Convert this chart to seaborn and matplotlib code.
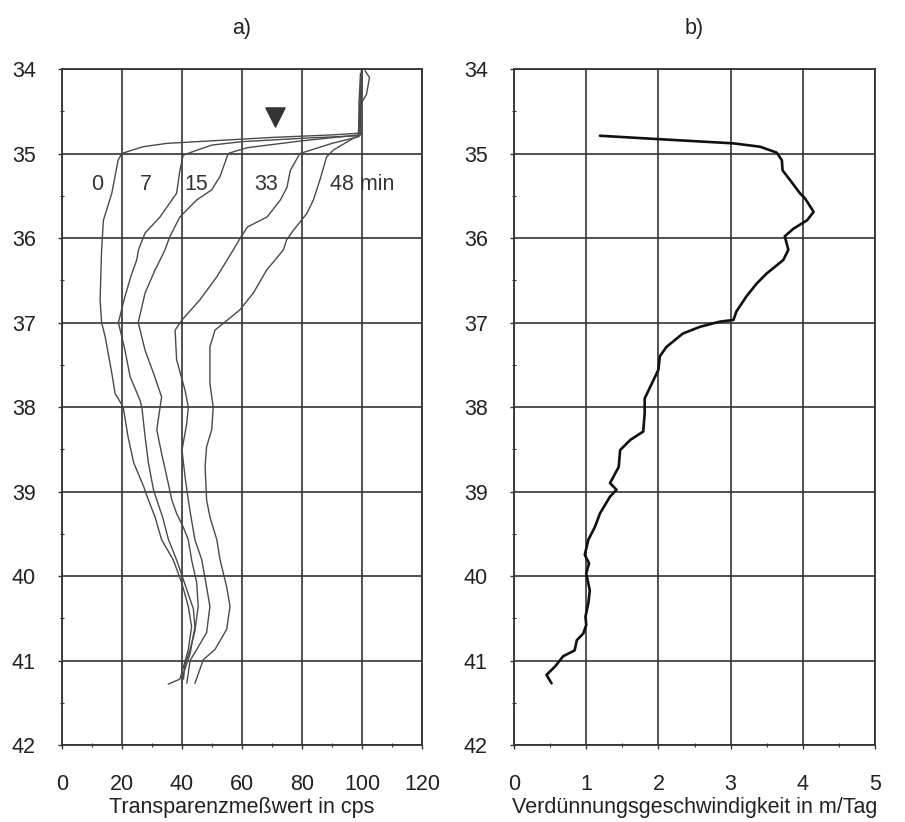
import matplotlib
matplotlib.use("Agg")
import matplotlib.pyplot as plt
import seaborn as sns
import pandas as pd

# panel a) transparency profiles (cps vs depth) for 5 times after injection
c0_x = [101.0, 102.5, 101.5, 99.5, 99.0, 98.8, 90.0, 70.0, 50.0, 35.0, 27.0, 19.9, 18.7, 16.6, 13.8, 13.2,
        12.7, 13.2, 14.4, 16.6, 17.7, 20.4, 22.0, 23.9, 27.2, 28.8, 31.0, 33.2, 37.1, 39.9, 42.1, 43.2,
        42.1, 39.9, 39.3, 35.4]
c0_y = [34.02, 34.10, 34.30, 34.42, 34.60, 34.76, 34.78, 34.81, 34.85, 34.88, 34.92, 35.00, 35.08, 35.47, 35.79, 36.14,
        36.73, 37.00, 37.17, 37.60, 37.84, 38.00, 38.35, 38.66, 38.94, 39.10, 39.30, 39.57, 39.81, 40.08, 40.36, 40.60,
        40.87, 41.15, 41.22, 41.28]

c7_x = [100.0, 99.5, 99.2, 98.8, 80.0, 60.0, 50.0, 45.0, 40.4, 39.3, 38.2, 32.7, 27.7, 25.5, 24.9, 22.9,
        20.7, 18.8, 21.0, 22.7, 26.0, 26.6, 27.7, 28.8, 30.5, 31.6, 33.5, 35.5, 38.2, 41.0, 43.8, 44.3,
        42.7, 40.5, 39.9]
c7_y = [34.00, 34.30, 34.55, 34.79, 34.82, 34.86, 34.90, 34.96, 35.02, 35.20, 35.47, 35.75, 35.94, 36.14, 36.26, 36.46,
        36.73, 37.00, 37.33, 37.64, 37.92, 38.00, 38.35, 38.66, 38.98, 39.10, 39.30, 39.57, 39.81, 40.10, 40.39, 40.60,
        40.92, 41.15, 41.27]

c15_x = [99.5, 99.0, 98.9, 80.0, 62.0, 58.0, 55.4, 52.7, 49.9, 44.9, 39.3, 36.0, 34.3, 32.7, 31.0, 27.7,
         25.4, 27.7, 30.5, 33.2, 32.7, 31.6, 33.2, 35.4, 36.6, 38.2, 40.4, 42.1, 43.2, 44.9, 45.4, 44.3,
         42.7, 41.0, 40.5]
c15_y = [34.05, 34.40, 34.78, 34.85, 34.93, 34.97, 35.00, 35.27, 35.43, 35.55, 35.75, 35.98, 36.14, 36.26, 36.38, 36.65,
         37.00, 37.33, 37.60, 37.88, 38.00, 38.27, 38.55, 38.90, 39.10, 39.26, 39.42, 39.57, 39.81, 40.08, 40.36, 40.65,
         40.87, 41.05, 41.22]

c33_x = [100.0, 99.3, 99.0, 90.0, 82.0, 79.3, 76.1, 75.0, 72.8, 68.4, 61.8, 59.6, 57.1, 51.6, 46.0, 40.0,
         37.7, 38.2, 41.0, 42.1, 41.6, 40.0, 41.0, 42.1, 43.0, 44.3, 46.6, 48.2, 49.3, 48.2, 44.9, 42.7,
         41.6]
c33_y = [34.00, 34.45, 34.80, 34.88, 34.97, 35.00, 35.20, 35.40, 35.55, 35.75, 35.87, 35.99, 36.14, 36.46, 36.73, 36.97,
         37.09, 37.44, 37.80, 38.00, 38.19, 38.51, 38.82, 39.10, 39.30, 39.57, 39.81, 40.13, 40.36, 40.67, 40.87, 41.00,
         41.27]

c48_x = [99.8, 99.6, 99.5, 97.1, 90.4, 88.2, 86.0, 83.8, 81.6, 77.1, 74.9, 73.8, 68.2, 63.8, 59.3, 53.8,
         51.0, 49.3, 49.3, 50.4, 49.9, 48.2, 47.7, 48.2, 49.3, 51.6, 52.7, 54.9, 56.0, 54.9, 51.0, 47.1,
         44.3]
c48_y = [34.00, 34.40, 34.78, 34.82, 34.96, 35.04, 35.31, 35.55, 35.71, 35.91, 36.02, 36.14, 36.38, 36.65, 36.85, 37.01,
         37.09, 37.29, 37.72, 38.00, 38.27, 38.47, 38.70, 39.10, 39.30, 39.57, 39.81, 40.13, 40.36, 40.63, 40.87, 40.99,
         41.27]

curve_labels = ["0", "7", "15", "33", "48 min"]
label_x = [11.6, 28.0, 44.7, 67.9, 89.3]
label_y = 35.37

# panel b) dilution velocity (m/day) vs depth
v_x = [1.19, 2.00, 3.04, 3.41, 3.64, 3.71, 3.72, 3.82, 3.96, 4.03, 4.15, 4.06, 3.87, 3.75, 3.80, 3.73,
       3.50, 3.36, 3.22, 3.08, 3.04, 2.85, 2.58, 2.34, 2.11, 2.02, 2.00, 1.91, 1.81, 1.81, 1.79, 1.61,
       1.47, 1.45, 1.38, 1.33, 1.42, 1.33, 1.19, 1.12, 1.03, 0.98, 1.04, 1.00, 1.05, 1.03, 0.99, 1.00,
       0.96, 0.87, 0.84, 0.68, 0.57, 0.45, 0.52]
v_y = [34.79, 34.83, 34.88, 34.92, 34.99, 35.08, 35.20, 35.31, 35.47, 35.53, 35.69, 35.79, 35.89, 35.98, 36.14, 36.26,
       36.42, 36.54, 36.69, 36.87, 36.97, 36.99, 37.05, 37.13, 37.29, 37.40, 37.56, 37.72, 37.90, 38.07, 38.29, 38.39,
       38.51, 38.71, 38.82, 38.90, 38.98, 39.06, 39.26, 39.42, 39.57, 39.75, 39.85, 39.97, 40.17, 40.32, 40.48, 40.58,
       40.68, 40.76, 40.88, 40.95, 41.07, 41.17, 41.27]

sns.set_theme(style="white")
plt.rcParams["font.family"] = ["Liberation Sans", "DejaVu Sans"]

W, H = 905, 822
fig = plt.figure(figsize=(W / 100, H / 100), dpi=100)
ax_a = fig.add_axes([62 / W, 77 / H, 360 / W, 676 / H])
ax_b = fig.add_axes([514 / W, 77 / H, 361 / W, 676 / H])

grid_col = "#333333"
fs = 15.5

profiles = [(c0_x, c0_y), (c7_x, c7_y), (c15_x, c15_y), (c33_x, c33_y), (c48_x, c48_y)]
for (px, py), name in zip(profiles, curve_labels):
    df = pd.DataFrame({"cps": px, "depth": py})
    sns.lineplot(data=df, x="cps", y="depth", sort=False, estimator=None,
                 color="#4a4a4a", lw=1.0, ax=ax_a)

for tx, t in zip(label_x, curve_labels):
    ax_a.text(tx, label_y, t, fontsize=fs, color="#333333", ha="left" if t.endswith("min") else "center",
              va="center")

# water level marker
ax_a.scatter([71], [34.57], marker="v", s=190, color="#333333", zorder=5)

dfb = pd.DataFrame({"v": v_x, "depth": v_y})
sns.lineplot(data=dfb, x="v", y="depth", sort=False, estimator=None, color="#111111", lw=1.9, ax=ax_b)

for ax, xmax, step, title, xlabel in [
    (ax_a, 120, 20, "a)", "Transparenzmeßwert in cps"),
    (ax_b, 5, 1, "b)", "Verdünnungsgeschwindigkeit in m/Tag"),
]:
    ax.set_xlim(0, xmax)
    ax.set_ylim(42, 34)
    ax.set_xticks(range(0, xmax + 1, step))
    ax.set_xticks([step / 2 + i * step for i in range(int(xmax / step))], minor=True)
    ax.set_yticks(range(34, 43))
    ax.set_yticks([34.5 + i for i in range(8)], minor=True)
    ax.grid(True, which="major", color=grid_col, lw=1.2)
    for s in ax.spines.values():
        s.set_color(grid_col)
        s.set_linewidth(1.3)
    ax.tick_params(which="major", direction="out", length=3, width=1, color=grid_col,
                   labelsize=fs, labelcolor="#222222", bottom=True, left=True)
    ax.tick_params(axis="x", which="major", pad=18)
    ax.tick_params(axis="y", which="major", pad=16)
    ax.tick_params(which="minor", direction="inout", length=3, width=0.8, color=grid_col,
                   bottom=True, left=True)
    ax.set_xlabel(xlabel, fontsize=fs, color="#222222", labelpad=1)
    ax.set_ylabel("")
    ax.set_title(title, fontsize=fs, color="#222222", pad=25)

fig.savefig("out.png", dpi=100, facecolor="white")
